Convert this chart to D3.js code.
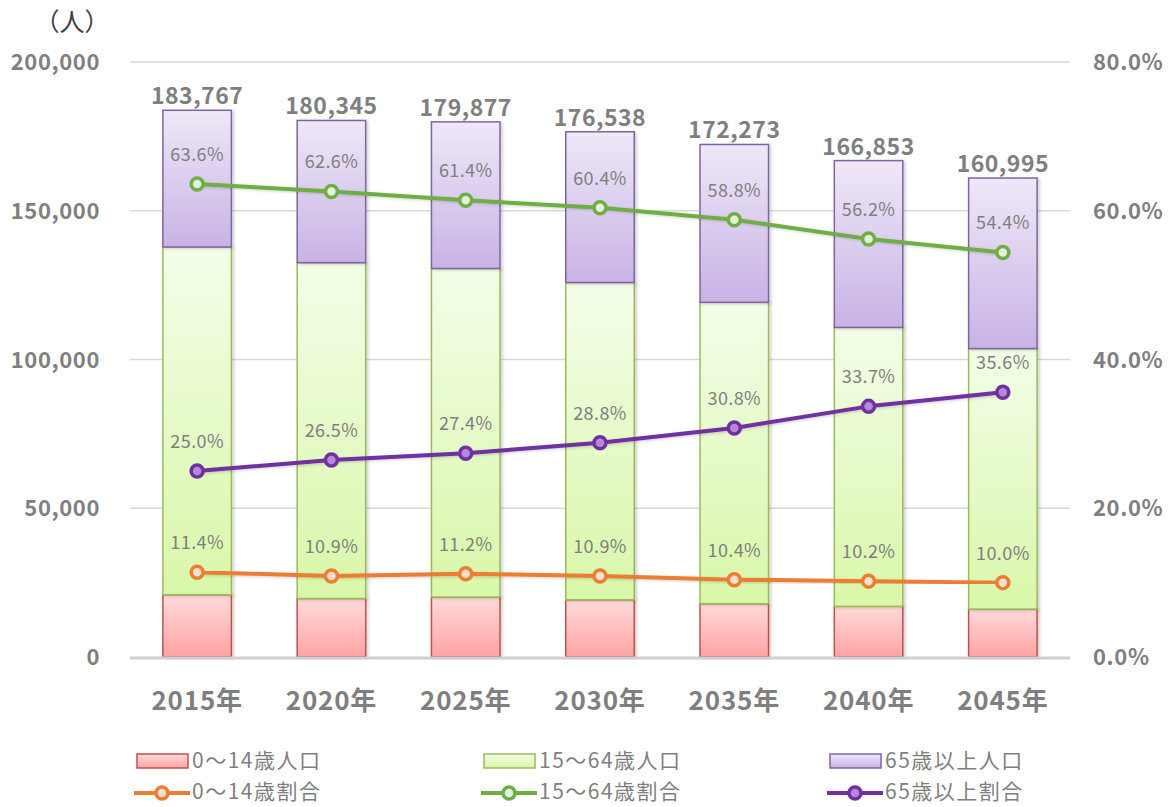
<!DOCTYPE html>
<html><head><meta charset="utf-8">
<script src="https://cdn.jsdelivr.net/npm/d3@7/dist/d3.min.js"></script>
<style>body{margin:0;background:#fff}svg{display:block}text{font-family:"Noto Sans CJK JP","Noto Sans",sans-serif}</style>
</head><body><svg id="c" width="1170" height="807"></svg>
<script>
const categories=["2015年","2020年","2025年","2030年","2035年","2040年","2045年"];
const totals=[183767,180345,179877,176538,172273,166853,160995];
const pop0_14=[20950,19658,20146,19243,17916,17019,16100];
const pop15_64=[116876,112896,110444,106629,101297,93771,87581];
const pop65=[45941,47791,49287,50666,53060,56063,57314];
const ratio0_14=[11.4,10.9,11.2,10.9,10.4,10.2,10.0];
const ratio15_64=[63.6,62.6,61.4,60.4,58.8,56.2,54.4];
const ratio65=[25.0,26.5,27.4,28.8,30.8,33.7,35.6];
const leftTicks=[0,50000,100000,150000,200000];
const rightTicks=[0,20,40,60,80];

const svg=d3.select("#c");
const defs=svg.append("defs");
function grad(id,top,bot){const g=defs.append("linearGradient").attr("id",id).attr("x1",0).attr("y1",0).attr("x2",0).attr("y2",1);
 g.append("stop").attr("offset","0%").attr("stop-color",top);g.append("stop").attr("offset","100%").attr("stop-color",bot);}
grad("gR","#ffdada","#ffa3a3");
grad("gG","#f3fde8","#d9f7a9");
grad("gP","#efe8f8","#c8b3e5");
const sh=defs.append("filter").attr("id","sh").attr("x","-20%").attr("y","-5%").attr("width","140%").attr("height","110%");
sh.append("feDropShadow").attr("dx",2).attr("dy",1).attr("stdDeviation",1.5).attr("flood-color","#000").attr("flood-opacity",0.18);

const x0=130,x1=1070,yTop=62,yBot=657;
const x=d3.scaleBand().domain(categories).range([x0,x1]).paddingInner(0.49).paddingOuter(0.245);
const y=d3.scaleLinear().domain([0,200000]).range([yBot,yTop]);
const yr=d3.scaleLinear().domain([0,80]).range([yBot,yTop]);
const gray="#7f7f7f";

// gridlines
svg.append("g").selectAll("line").data(leftTicks.filter(d=>d>0)).join("line")
 .attr("x1",x0).attr("x2",x1).attr("y1",d=>y(d)).attr("y2",d=>y(d)).attr("stroke","#d9d9d9").attr("stroke-width",1.5);

// axes
const la=svg.append("g").attr("transform",`translate(${x0-30},0)`).call(d3.axisLeft(y).tickValues(leftTicks).tickFormat(d3.format(",")).tickSize(0).tickPadding(0));
la.select(".domain").remove();
la.selectAll("text").attr("fill",gray).attr("font-size",22).attr("font-weight","bold").attr("letter-spacing",0.6).attr("dy","0.35em");
const ra=svg.append("g").attr("transform",`translate(${x1+23},0)`).call(d3.axisRight(yr).tickValues(rightTicks).tickFormat(d=>d.toFixed(1)+"%").tickSize(0).tickPadding(0));
ra.select(".domain").remove();
ra.selectAll("text").attr("fill",gray).attr("font-size",22).attr("font-weight","bold").attr("letter-spacing",0.6).attr("dy","0.35em");
const xa=svg.append("g").attr("transform",`translate(0,${yBot})`).call(d3.axisBottom(x).tickSize(0).tickPadding(44));
xa.select(".domain").remove();
xa.selectAll("text").attr("fill",gray).attr("font-size",26).attr("font-weight","bold").attr("letter-spacing",0.8).attr("dy","0.35em");

svg.append("text").attr("x",72).attr("y",31).attr("text-anchor","middle").attr("font-size",25).attr("fill","#404040").text("（人）");

// bars
const stacks=[{v:pop0_14,f:"url(#gR)",s:"#c0504d"},{v:pop15_64,f:"url(#gG)",s:"#9bbb59"},{v:pop65,f:"url(#gP)",s:"#8064a2"}];
const bw=x.bandwidth();
const bg=svg.append("g");
categories.forEach((c,i)=>{
 let base=0;
 stacks.forEach(st=>{
  const v=st.v[i];
  bg.append("rect").attr("x",x(c)).attr("width",bw).attr("y",y(base+v)).attr("height",y(base)-y(base+v))
   .attr("fill",st.f).attr("stroke",st.s).attr("stroke-width",1.5).attr("filter","url(#sh)");
  base+=v;
 });
});
// baseline
svg.append("line").attr("x1",x0).attr("x2",x1).attr("y1",yBot+1).attr("y2",yBot+1).attr("stroke","#d0d0d0").attr("stroke-width",3);

// totals
svg.append("g").selectAll("text").data(categories).join("text")
 .attr("x",d=>x(d)+bw/2).attr("y",(d,i)=>y(totals[i])-6).attr("text-anchor","middle")
 .attr("font-size",23).attr("font-weight","bold").attr("letter-spacing",0.5).attr("fill",gray).text((d,i)=>d3.format(",")(totals[i]));

// lines
const lines=[{v:ratio0_14,c:"#ed7d31",f:"#fbe0d0"},{v:ratio15_64,c:"#70ad47",f:"#e3f0da"},{v:ratio65,c:"#7030a0",f:"#b48ad8"}];
const cx=d=>x(d)+bw/2;
lines.forEach(L=>{
 const pts=categories.map((c,i)=>[cx(c),yr(L.v[i])]);
 svg.append("path").attr("d",d3.line()(pts)).attr("fill","none").attr("stroke",L.c).attr("stroke-width",4).attr("stroke-linejoin","round")
  .attr("filter","url(#sh)");
 svg.append("g").selectAll("circle").data(pts).join("circle").attr("cx",p=>p[0]).attr("cy",p=>p[1]).attr("r",6)
  .attr("fill",L.f).attr("stroke",L.c).attr("stroke-width",3.5);
 svg.append("g").selectAll("text").data(pts).join("text").attr("x",p=>p[0]).attr("y",p=>p[1]-23).attr("text-anchor","middle")
  .attr("font-size",18).attr("letter-spacing",0.4).attr("fill",gray).text((p,i)=>L.v[i].toFixed(1)+"%");
});

// legend
const lg=svg.append("g");
const lx=[137,484,830];
const barNames=["0～14歳人口","15～64歳人口","65歳以上人口"];
const lineNames=["0～14歳割合","15～64歳割合","65歳以上割合"];
const rectStroke=["#c0504d","#9bbb59","#8064a2"];
lx.forEach((px,i)=>{
 lg.append("rect").attr("x",px).attr("y",754).attr("width",51).attr("height",14).attr("fill",stacks[i].f).attr("stroke",rectStroke[i]).attr("stroke-width",1.5);
 lg.append("text").attr("x",px+55).attr("y",761).attr("dy","0.35em").attr("font-size",21).attr("letter-spacing",1.5).attr("fill",gray).text(barNames[i]);
 lg.append("line").attr("x1",px-3).attr("x2",px+53).attr("y1",793).attr("y2",793).attr("stroke",lines[i].c).attr("stroke-width",4);
 lg.append("circle").attr("cx",px+25).attr("cy",793).attr("r",6).attr("fill",lines[i].f).attr("stroke",lines[i].c).attr("stroke-width",3.5);
 lg.append("text").attr("x",px+55).attr("y",792).attr("dy","0.35em").attr("font-size",21).attr("letter-spacing",1.5).attr("fill",gray).text(lineNames[i]);
});
</script></body></html>
